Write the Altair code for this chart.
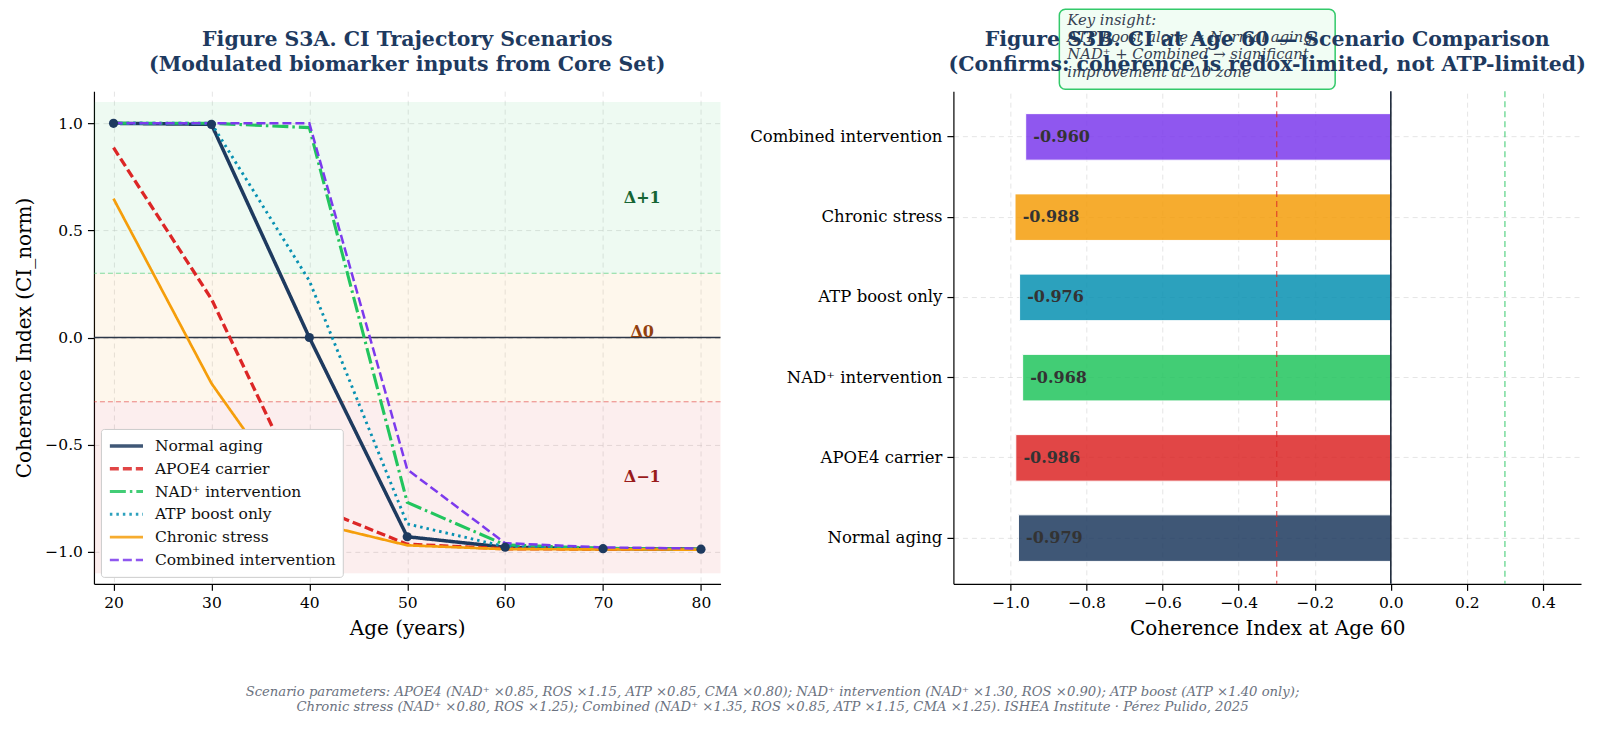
import altair as alt
import pandas as pd

# ---------------- data ----------------
AGES = [20, 30, 40, 50, 60, 70, 80]
SCENARIOS = ["Normal aging", "APOE4 carrier", "NAD⁺ intervention",
             "ATP boost only", "Chronic stress", "Combined intervention"]
CI_NORMAL = [1.0, 0.995, 0.0, -0.93, -0.979, -0.986, -0.988]
CI_APOE4 = [0.886, 0.18, -0.78, -0.965, -0.986, -0.988, -0.989]
CI_NAD = [1.0, 1.0, 0.98, -0.77, -0.968, -0.984, -0.988]
CI_ATP = [1.0, 1.0, 0.265, -0.87, -0.976, -0.985, -0.988]
CI_STRESS = [0.648, -0.214, -0.86, -0.97, -0.988, -0.989, -0.99]
CI_COMBINED = [1.0, 1.0, 1.0, -0.616, -0.960, -0.980, -0.985]
CI_AT_60 = [-0.979, -0.986, -0.968, -0.976, -0.988, -0.960]

COLORS = ["#1e3a5f", "#dc2626", "#22c55e", "#0891b2", "#f59e0b", "#7c3aed"]
DASHES = [[1, 0], [9, 4], [16, 4, 2.5, 4], [2.5, 4], [1, 0], [9, 4]]
WIDTHS = [3.5, 2.5, 2.5, 2.5, 2.5, 2.5]

ZONE_LOW = [0.3, -0.3, -1.1]
ZONE_HIGH = [1.1, 0.3, -0.3]
ZONE_COLORS = ["rgba(34,197,94,0.08)", "rgba(245,158,11,0.08)", "rgba(220,38,38,0.08)"]
THRESH_Y = [0.3, -0.3]
THRESH_COLORS = ["rgba(34,197,94,0.55)", "rgba(220,38,38,0.55)"]
ZONE_LABELS = ["Δ+1", "Δ0", "Δ−1"]
ZONE_LABEL_X = [74, 74, 74]
ZONE_LABEL_Y = [0.65, 0.025, -0.65]
ZONE_LABEL_COLORS = ["#166534", "#92400e", "#991b1b"]

TITLE_A = ["Figure S3A. CI Trajectory Scenarios",
           "(Modulated biomarker inputs from Core Set)"]
TITLE_B = ["Figure S3B. CI at Age 60 — Scenario Comparison",
           "(Confirms: coherence is redox-limited, not ATP-limited)"]
INSIGHT = ["Key insight:", "ATP boost alone ≈ Normal aging;",
           "NAD⁺ + Combined → significant", "improvement at Δ0 zone"]
FOOTER = ["Scenario parameters: APOE4 (NAD⁺ ×0.85, ROS ×1.15, ATP ×0.85, CMA ×0.80); "
          "NAD⁺ intervention (NAD⁺ ×1.30, ROS ×0.90); ATP boost (ATP ×1.40 only);",
          "Chronic stress (NAD⁺ ×0.80, ROS ×1.25); Combined (NAD⁺ ×1.35, ROS ×0.85, "
          "ATP ×1.15, CMA ×1.25). ISHEA Institute · Pérez Pulido, 2025"]

FONT = "DejaVu Serif"
NAVY = "#1e3a5f"
W1, W2, H = 627, 628, 493

# ---------------- tables ----------------
series = [CI_NORMAL, CI_APOE4, CI_NAD, CI_ATP, CI_STRESS, CI_COMBINED]
rows = []
for s, vals in zip(SCENARIOS, series):
    for a, v in zip(AGES, vals):
        rows.append({"scenario": s, "age": a, "ci": v})
traj = pd.DataFrame(rows)
zones = pd.DataFrame({"lo": ZONE_LOW, "hi": ZONE_HIGH, "c": ZONE_COLORS})
thresh = pd.DataFrame({"y": THRESH_Y, "c": THRESH_COLORS})
zlabels = pd.DataFrame({"x": ZONE_LABEL_X, "y": ZONE_LABEL_Y,
                        "t": ZONE_LABELS, "c": ZONE_LABEL_COLORS})
bars_df = pd.DataFrame({"scenario": SCENARIOS, "ci": CI_AT_60,
                        "c": COLORS,
                        "label": [f"{v:.3f}" for v in CI_AT_60]})
one = pd.DataFrame({"k": [0]})

AXC = dict(labelFont=FONT, labelFontSize=15.5, labelColor="#000000",
           titleFont=FONT, titleFontSize=20, titleFontWeight="normal",
           titleColor="#000000", tickSize=6.5, tickWidth=1.2, tickColor="#000000",
           domainColor="#000000", domainWidth=1.2, labelPadding=5,
           grid=True, gridColor="#c8c8c8", gridDash=[5, 4], gridOpacity=0.6,
           gridWidth=0.8)

# ---------------- left panel ----------------
xs = alt.Scale(domain=[18, 82], nice=False, zero=False)
ys = alt.Scale(domain=[-1.15, 1.15], nice=False, zero=False)
xax = alt.Axis(values=AGES, format="d", title="Age (years)", titlePadding=8, **AXC)
yax = alt.Axis(values=[-1.0, -0.5, 0.0, 0.5, 1.0], format=".1f",
               title="Coherence Index (CI_norm)", titlePadding=10, **AXC)

band = alt.Chart(zones).mark_rect().encode(
    x=alt.value(0), x2=alt.value(W1),
    y=alt.Y("lo:Q", scale=ys, axis=yax), y2="hi:Q",
    color=alt.Color("c:N", scale=None))

thr = alt.Chart(thresh).mark_rule(strokeDash=[5, 3], strokeWidth=1).encode(
    y=alt.Y("y:Q", scale=ys, axis=yax), color=alt.Color("c:N", scale=None))

zero_l = alt.Chart(one).mark_rule(color="#2d3748", strokeWidth=1.6).encode(
    y=alt.datum(0))

leg = alt.Legend(title=None, orient="bottom-left", offset=7, fillColor="white",
                 strokeColor="#cccccc", padding=7, cornerRadius=3,
                 labelFont=FONT, labelFontSize=15.5, labelColor="#111111",
                 labelLimit=400, symbolType="stroke", symbolSize=1100,
                 symbolOpacity=1, clipHeight=20, rowPadding=2.8, labelOffset=10)
lines = alt.Chart(traj).mark_line().encode(
    x=alt.X("age:Q", scale=xs, axis=xax),
    y=alt.Y("ci:Q", scale=ys, axis=yax),
    color=alt.Color("scenario:N", sort=SCENARIOS,
                    scale=alt.Scale(domain=SCENARIOS, range=COLORS), legend=leg),
    strokeDash=alt.StrokeDash("scenario:N", sort=SCENARIOS,
                              scale=alt.Scale(domain=SCENARIOS, range=DASHES),
                              legend=leg),
    strokeWidth=alt.StrokeWidth("scenario:N", sort=SCENARIOS,
                                scale=alt.Scale(domain=SCENARIOS, range=WIDTHS),
                                legend=leg),
)

pts = alt.Chart(traj[traj.scenario == "Normal aging"]).mark_point(
    filled=True, size=85, color=NAVY, opacity=1).encode(
    x=alt.X("age:Q", scale=xs, axis=xax), y=alt.Y("ci:Q", scale=ys, axis=yax))

ztxt = alt.Chart(zlabels).mark_text(font=FONT, fontSize=16, fontWeight="bold").encode(
    x=alt.X("x:Q", scale=xs, axis=xax), y=alt.Y("y:Q", scale=ys, axis=yax),
    text="t:N", color=alt.Color("c:N", scale=None))

ghost = alt.Chart(one).mark_rect(fill="transparent").encode(
    x=alt.value(10), x2=alt.value(20), y=alt.value(-82), y2=alt.value(-70))

title_a = alt.Chart(one).mark_text(
    text=TITLE_A, font=FONT, fontSize=20.5, fontWeight="bold", color=NAVY,
    lineHeight=24.5, align="center", baseline="middle").encode(
    x=alt.value(W1 / 2), y=alt.value(-51))

left = alt.layer(band, thr, zero_l, lines, pts, ztxt, ghost, title_a).properties(
    width=W1, height=H)

# ---------------- right panel ----------------
xs2 = alt.Scale(domain=[-1.15, 0.5], nice=False, zero=False)
ysort = list(reversed(SCENARIOS))
yband = alt.Scale(domain=ysort, paddingInner=0.42, paddingOuter=0.28)
xax2 = alt.Axis(values=[-1.0, -0.8, -0.6, -0.4, -0.2, 0.0, 0.2, 0.4],
                format=".1f", title="Coherence Index at Age 60", titlePadding=8,
                **AXC)
AXC2 = dict(AXC)
AXC2["labelFontSize"] = 16.5
yax2 = alt.Axis(title=None, labelLimit=400, **AXC2)

bars = alt.Chart(bars_df).mark_bar(opacity=0.85, stroke="white", strokeWidth=1).encode(
    y=alt.Y("scenario:N", sort=ysort, scale=yband, axis=yax2),
    x=alt.X("ci:Q", scale=xs2, axis=xax2),
    x2=alt.datum(0),
    color=alt.Color("c:N", scale=None))

vrules = alt.Chart(pd.DataFrame({"x": [-0.3, 0.3], "c": ["#dc2626", "#22c55e"]})).mark_rule(
    strokeDash=[6, 4], strokeWidth=1.3, opacity=0.7).encode(
    x=alt.X("x:Q", scale=xs2, axis=xax2), color=alt.Color("c:N", scale=None))

zero_r = alt.Chart(one).mark_rule(color="#1e293b", strokeWidth=1.6).encode(
    x=alt.datum(0))

blabels = alt.Chart(bars_df).transform_calculate(lx="datum.ci + 0.02").mark_text(
    align="left", baseline="middle", font=FONT, fontSize=16, fontWeight="bold",
    color="#333333").encode(
    x=alt.X("lx:Q", scale=xs2, axis=xax2),
    y=alt.Y("scenario:N", sort=ysort, scale=yband, axis=yax2), text="label:N")

box = alt.Chart(one).mark_rect(fill="#f0fdf4", stroke="#22c55e", strokeWidth=1.5,
                               cornerRadius=6, opacity=0.92).encode(
    x=alt.value(106), x2=alt.value(382), y=alt.value(-82), y2=alt.value(-2))

box_txt = alt.Chart(one).mark_text(
    text=INSIGHT, font=FONT, fontSize=14.8, fontStyle="italic", color="#374151",
    lineHeight=17.3, align="left", baseline="middle").encode(
    x=alt.value(114), y=alt.value(-70.5))

title_b = alt.Chart(one).mark_text(
    text=TITLE_B, font=FONT, fontSize=20.5, fontWeight="bold", color=NAVY,
    lineHeight=24.5, align="center", baseline="middle").encode(
    x=alt.value(W2 / 2), y=alt.value(-51))

right = alt.layer(bars, vrules, zero_r, blabels, box, box_txt, title_b).properties(
    width=W2, height=H)

chart = alt.hconcat(left, right, spacing=27).properties(
    padding={"left": 6, "top": 0, "right": 5, "bottom": 5},
    title=alt.TitleParams(text=FOOTER, orient="bottom", anchor="middle",
                          font=FONT, fontSize=13.2, fontStyle="italic",
                          fontWeight="normal", color="#6b7280", offset=47,
                          lineHeight=15, dx=-28)
).configure_view(stroke=None).configure_axis(
    labelFont=FONT, titleFont=FONT, labelFontSize=15.5, titleFontSize=20,
    titleFontWeight="normal", labelColor="#000000", titleColor="#000000",
    domainColor="#000000", tickColor="#000000", domainWidth=1.2, tickWidth=1.2,
    tickSize=6.5, grid=True, gridColor="#c8c8c8", gridDash=[5, 4],
    gridOpacity=0.6, gridWidth=0.8
).configure_text(font=FONT)

chart.save("out.html", embed_options={"renderer": "svg", "actions": False})
